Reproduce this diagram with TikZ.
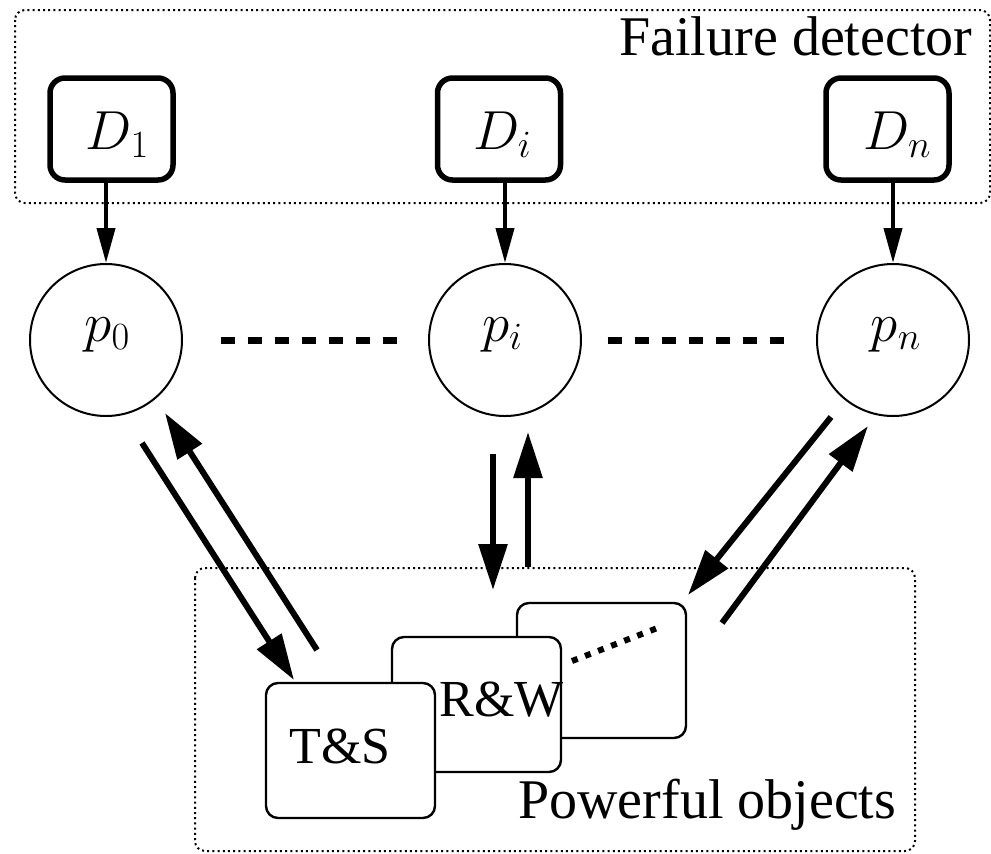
\RequirePackage{fix-cm}
\documentclass[tikz,border=0pt]{standalone}
\usepackage[no-math]{fontspec}
\setmainfont{Liberation Serif}
\usetikzlibrary{arrows.meta}

\begin{document}
\begin{tikzpicture}[x=0.5pt,y=-0.5pt,
  grp/.style={draw, line width=1pt, dash pattern=on 1pt off 1.6pt, rounded corners=5pt},
  detbox/.style={draw, line width=2.75pt, rounded corners=7.5pt, minimum width=61.5pt, minimum height=51pt, inner sep=0pt},
  proc/.style={draw, circle, line width=1pt, minimum size=76pt, inner sep=0pt},
  objbox/.style={draw, fill=white, line width=1.2pt, rounded corners=6pt, minimum width=84.5pt, minimum height=67.5pt, inner sep=0pt},
  mathlbl/.style={inner sep=0pt, anchor=base, font=\fontsize{27.5}{33}\selectfont},
  biglbl/.style={inner sep=0pt, anchor=base west, font=\fontsize{28}{34}\selectfont},
  objlbl/.style={inner sep=0pt, anchor=base west, font=\fontsize{26}{31}\selectfont},
  query/.style={line width=2pt, -{Triangle[length=17.5pt,width=9pt]}},
  invoke/.style={line width=3pt, -{Triangle[length=23pt,width=14pt]}},
  ringdash/.style={line width=3.5pt, dash pattern=on 7pt off 6.5pt},
  objdash/.style={line width=3pt, dash pattern=on 3pt off 4pt}
]
\useasboundingbox (0,0) rectangle (991,853);

% group frames
\draw[grp] (15,10) rectangle (990,203);
\draw[grp] (195,568) rectangle (915,851);
\node[biglbl] (fdlabel) at (619,55) {Failure detector};
\node[biglbl] (polabel) at (518,818) {Powerful objects};

% failure detector modules
\node[detbox] (d1) at (111.5,129) {};
\node[detbox] (di) at (499,129) {};
\node[detbox] (dn) at (887.5,129) {};
\node[mathlbl] (d1l) at (117.5,149) {$D_1$};
\node[mathlbl] (dil) at (502.5,149) {$D_i$};
\node[mathlbl] (dnl) at (897.5,149) {$D_n$};

% processes
\node[proc] (p0) at (106,340) {};
\node[proc] (pi) at (505,340) {};
\node[proc] (pn) at (893,340) {};
\node[mathlbl] (p0l) at (107.5,341) {$p_0$};
\node[mathlbl] (pil) at (502.5,341) {$p_i$};
\node[mathlbl] (pnl) at (896,341) {$p_n$};

\draw[query] (p0.north |- d1.south) -- (p0.north);
\draw[query] (pi.north |- di.south) -- (pi.north);
\draw[query] (pn.north |- dn.south) -- (pn.north);

\draw[ringdash] ([xshift=18.75pt]p0.east) -- ([xshift=-14.25pt]pi.west);
\draw[ringdash] ([xshift=12.75pt]pi.east) -- ([xshift=-14.75pt]pn.west);

% shared objects, back to front
\node[objbox] (ob3) at (601.5,670.5) {};
\node[objbox] (ob2) at (476.5,704.5) {};
\node[objbox] (ob1) at (350.5,750.5) {};
\node[objlbl] (ob2l) at (439,716) {R\&W};
\node[objlbl] (ob1l) at (289,763) {T\&S};
\coordinate (od1) at (572,661);
\coordinate (od2) at (660,627);
\draw[objdash] (od1) -- (od2);

% invocations and responses
\coordinate (a1s) at (142,443);  \coordinate (a1e) at (294,680);
\coordinate (a2s) at (317,650);  \coordinate (a2e) at (165,413);
\coordinate (a3s) at (493,454);  \coordinate (a3e) at (493,590);
\coordinate (a4s) at (528,567);  \coordinate (a4e) at (528,432);
\coordinate (a5s) at (831,417);  \coordinate (a5e) at (688,595);
\coordinate (a6s) at (722,623);  \coordinate (a6e) at (868,426);
\draw[invoke] (a1s) -- (a1e);
\draw[invoke] (a2s) -- (a2e);
\draw[invoke] (a3s) -- (a3e);
\draw[invoke] (a4s) -- (a4e);
\draw[invoke] (a5s) -- (a5e);
\draw[invoke] (a6s) -- (a6e);
\end{tikzpicture}
\end{document}
